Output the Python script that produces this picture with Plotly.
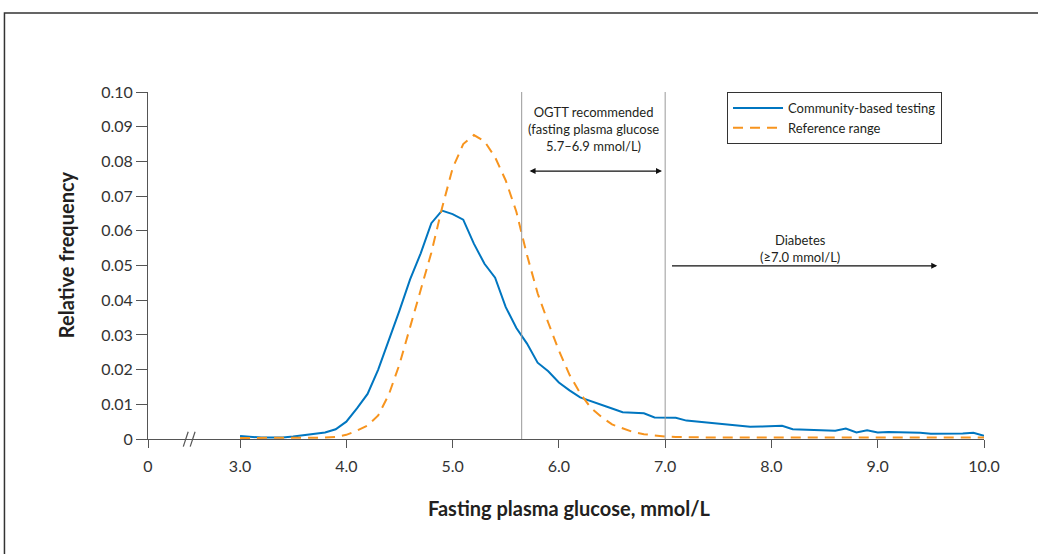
import plotly.graph_objects as go

# ---------------- data ----------------
glucose = [3.0, 3.1, 3.2, 3.3, 3.4, 3.5, 3.6, 3.7, 3.8, 3.9,
           4.0, 4.1, 4.2, 4.3, 4.4, 4.5, 4.6, 4.7, 4.8, 4.9,
           5.0, 5.1, 5.2, 5.3, 5.4, 5.5, 5.6, 5.7, 5.8, 5.9,
           6.0, 6.1, 6.2, 6.3, 6.4, 6.5, 6.6, 6.7, 6.8, 6.9,
           7.0, 7.1, 7.2, 7.3, 7.4, 7.5, 7.6, 7.7, 7.8, 7.9,
           8.0, 8.1, 8.2, 8.3, 8.4, 8.5, 8.6, 8.7, 8.8, 8.9,
           9.0, 9.1, 9.2, 9.3, 9.4, 9.5, 9.6, 9.7, 9.8, 9.9, 10.0]

community = [0.0009, 0.0006, 0.0004, 0.0004, 0.0004, 0.0007, 0.0011, 0.0015, 0.0019, 0.0028,
             0.0050, 0.0088, 0.0130, 0.0200, 0.0282, 0.0370, 0.0460, 0.0535, 0.0622, 0.0658,
             0.0648, 0.0632, 0.0563, 0.0505, 0.0465, 0.0380, 0.0320, 0.0275, 0.0220, 0.0195,
             0.0163, 0.0140, 0.0120, 0.0110, 0.0100, 0.0088, 0.0077, 0.0076, 0.0074, 0.0062,
             0.0062, 0.0061, 0.0053, 0.0050, 0.0048, 0.0045, 0.0041, 0.0037, 0.0035, 0.0036,
             0.0037, 0.0038, 0.0028, 0.0027, 0.0026, 0.0025, 0.0024, 0.0030, 0.0019, 0.0025,
             0.0019, 0.0020, 0.0020, 0.0019, 0.0018, 0.0015, 0.0015, 0.0017, 0.0016, 0.0018, 0.0009]

reference = [0.0003, 0.0003, 0.0003, 0.0003, 0.0003, 0.0003, 0.0003, 0.0004, 0.0004, 0.0006,
             0.0012, 0.0024, 0.0039, 0.0068, 0.0128, 0.0215, 0.0322, 0.0432, 0.0537, 0.0665,
             0.0780, 0.0850, 0.0876, 0.0858, 0.0812, 0.0745, 0.0655, 0.0530, 0.0420, 0.0335,
             0.0255, 0.0185, 0.0132, 0.0090, 0.0064, 0.0042, 0.0030, 0.0020, 0.0014, 0.0010,
             0.0007, 0.0006, 0.0005, 0.0004, 0.0004, 0.0004, 0.0004, 0.0004, 0.0004, 0.0004,
             0.0004, 0.0004, 0.0004, 0.0004, 0.0004, 0.0004, 0.0004, 0.0004, 0.0004, 0.0004,
             0.0004, 0.0004, 0.0004, 0.0004, 0.0004, 0.0004, 0.0004, 0.0004, 0.0004, 0.0004, 0.0004]

x_tick_values = [3, 4, 5, 6, 7, 8, 9, 10]
x_tick_labels = ["3.0", "4.0", "5.0", "6.0", "7.0", "8.0", "9.0", "10.0"]
y_tick_values = [0, 0.01, 0.02, 0.03, 0.04, 0.05, 0.06, 0.07, 0.08, 0.09, 0.10]
y_tick_labels = ["0", "0.01", "0.02", "0.03", "0.04", "0.05", "0.06", "0.07", "0.08", "0.09", "0.10"]

ogtt_bounds = [5.65, 7.0]
series_names = ["Community-based testing", "Reference range"]

# ---------------- styling ----------------
AXIS_ORIGIN = 2.134      # where the broken axis shows "0"
X_MAX = 10.0
BLUE = "rgb(0,118,192)"
ORANGE = "rgb(247,148,30)"
AXIS_COL = "#555555"
TEXT_COL = "#231f20"
FONT = "Lato"

fig = go.Figure()
fig.add_trace(go.Scatter(x=glucose, y=community, mode="lines", name=series_names[0],
                         line=dict(color=BLUE, width=2)))
fig.add_trace(go.Scatter(x=glucose, y=reference, mode="lines", name=series_names[1],
                         line=dict(color=ORANGE, width=2, dash="10px,7px")))

# vertical OGTT boundary lines
for xb in ogtt_bounds:
    fig.add_shape(type="line", xref="x", yref="paper", x0=xb, x1=xb, y0=0, y1=1,
                  line=dict(color="#999999", width=1))

# axis break marks
for dx in (0.0, 0.065):
    fig.add_shape(type="line", xref="x", yref="paper",
                  x0=2.466 + dx, x1=2.512 + dx, y0=-0.022, y1=0.021,
                  line=dict(color=AXIS_COL, width=1.2))

# outer frame
fig.add_shape(type="rect", xref="paper", yref="paper", x0=-0.1717, x1=1.2, y0=-0.6, y1=1.2277,
              line=dict(color="#333333", width=1.5), fillcolor="rgba(0,0,0,0)", layer="below")

ann_font = dict(family=FONT, size=13, color=TEXT_COL)
mid_ogtt = (ogtt_bounds[0] + ogtt_bounds[1]) / 2
fig.add_annotation(x=mid_ogtt, y=0.0893, xref="x", yref="y", showarrow=False,
                   text="OGTT recommended<br>(fasting plasma glucose<br>5.7–6.9 mmol/L)",
                   font=ann_font, align="center", xanchor="center", yanchor="middle")
fig.add_annotation(x=6.97, y=0.0772, ax=5.71, ay=0.0772, xref="x", yref="y", axref="x", ayref="y",
                   text="", showarrow=True, arrowhead=2, arrowside="end+start", arrowsize=1,
                   arrowwidth=1.2, arrowcolor="#111111")
fig.add_annotation(x=8.27, y=0.0550, xref="x", yref="y", showarrow=False,
                   text="Diabetes<br>(≥7.0 mmol/L)", font=ann_font, align="center",
                   xanchor="center", yanchor="middle")
fig.add_annotation(x=9.56, y=0.0499, ax=7.05, ay=0.0499, xref="x", yref="y", axref="x", ayref="y",
                   text="", showarrow=True, arrowhead=2, arrowside="end", arrowsize=1,
                   arrowwidth=1.2, arrowcolor="#111111")

# axis titles
fig.add_annotation(x=0.5036, y=-0.199, xref="paper", yref="paper", showarrow=False,
                   xanchor="center", yanchor="middle",
                   text="<b>Fasting plasma glucose, mmol/L</b>",
                   font=dict(family=FONT, size=20, color=TEXT_COL))
fig.add_annotation(x=-0.098, y=0.530, xref="paper", yref="paper", showarrow=False, textangle=-90,
                   xanchor="center", yanchor="middle",
                   text="<b>Relative frequency</b>",
                   font=dict(family=FONT, size=20, color=TEXT_COL))

fig.update_layout(
    width=1038, height=554,
    margin=dict(l=148, r=54, t=92, b=115, pad=0),
    paper_bgcolor="white", plot_bgcolor="white",
    font=dict(family=FONT, color=TEXT_COL),
    legend=dict(x=0.6926, y=1.0, xanchor="left", yanchor="top",
                bordercolor="#333333", borderwidth=1, bgcolor="white",
                font=dict(family=FONT, size=13, color=TEXT_COL),
                itemwidth=50, tracegroupgap=2),
    showlegend=True,
)
fig.update_xaxes(range=[AXIS_ORIGIN, X_MAX], showgrid=False, zeroline=False,
                 showline=True, linecolor=AXIS_COL, linewidth=1,
                 ticks="outside", ticklen=8, tickcolor=AXIS_COL, tickwidth=1,
                 ticklabelstandoff=5,
                 tickvals=[AXIS_ORIGIN] + x_tick_values, ticktext=["0"] + x_tick_labels,
                 tickfont=dict(family=FONT, size=16, color="#333333"))
fig.update_yaxes(range=[0, 0.10], showgrid=False, zeroline=False,
                 showline=True, linecolor=AXIS_COL, linewidth=1,
                 ticks="outside", ticklen=11, tickcolor=AXIS_COL, tickwidth=1,
                 tickvals=y_tick_values, ticktext=y_tick_labels,
                 tickfont=dict(family=FONT, size=16, color="#333333"))

fig.write_html("out.html", config={"displayModeBar": False},
               post_script="document.body.style.margin='0';document.body.style.overflow='hidden';")
